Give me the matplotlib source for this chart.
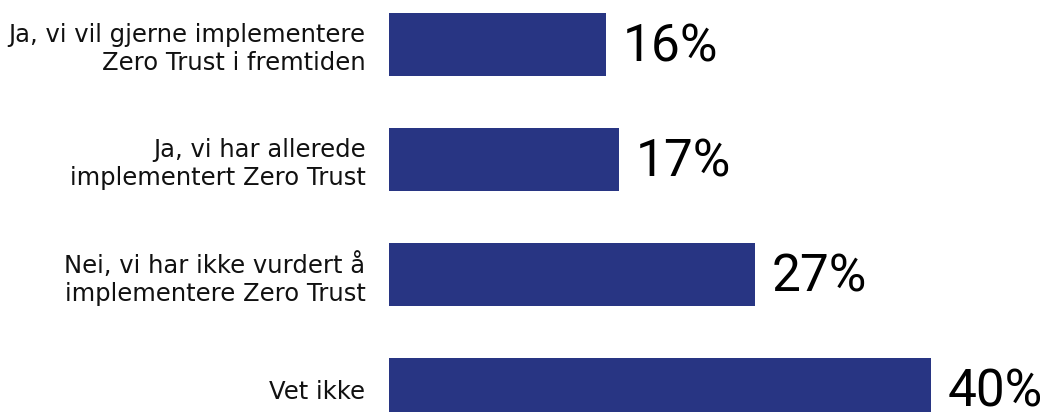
import matplotlib.pyplot as plt

# Survey answers, top to bottom
answers = [
    "Ja, vi vil gjerne implementere\nZero Trust i fremtiden",
    "Ja, vi har allerede\nimplementert Zero Trust",
    "Nei, vi har ikke vurdert å\nimplementere Zero Trust",
    "Vet ikke",
]
shares = [16, 17, 27, 40]

bar_color = "#283583"

fig = plt.figure(figsize=(10.64, 4.12), dpi=100)
ax = fig.add_axes([389 / 1064, 0, 1 - 389 / 1064, 1])

pos = list(range(len(answers)))
ax.barh(pos, shares, height=0.548, color=bar_color)

ax.set_xlim(0, 49.8)
ax.set_ylim(3.196, -0.387)

for y, v in zip(pos, shares):
    ax.annotate(f"{v}%", xy=(v, y), xytext=(12, -2.5), textcoords="offset points",
                ha="left", va="center", fontsize=37, family="Roboto",
                fontweight="normal", color="black")

ax.set_yticks(pos)
ax.set_yticklabels(answers, fontsize=17.5, family="DejaVu Sans", linespacing=1.22,
                   ha="right", color="#111111")
ax.tick_params(axis="y", length=0, pad=17)
ax.set_xticks([])
for s in ax.spines.values():
    s.set_visible(False)

fig.savefig("out.png", dpi=100)
